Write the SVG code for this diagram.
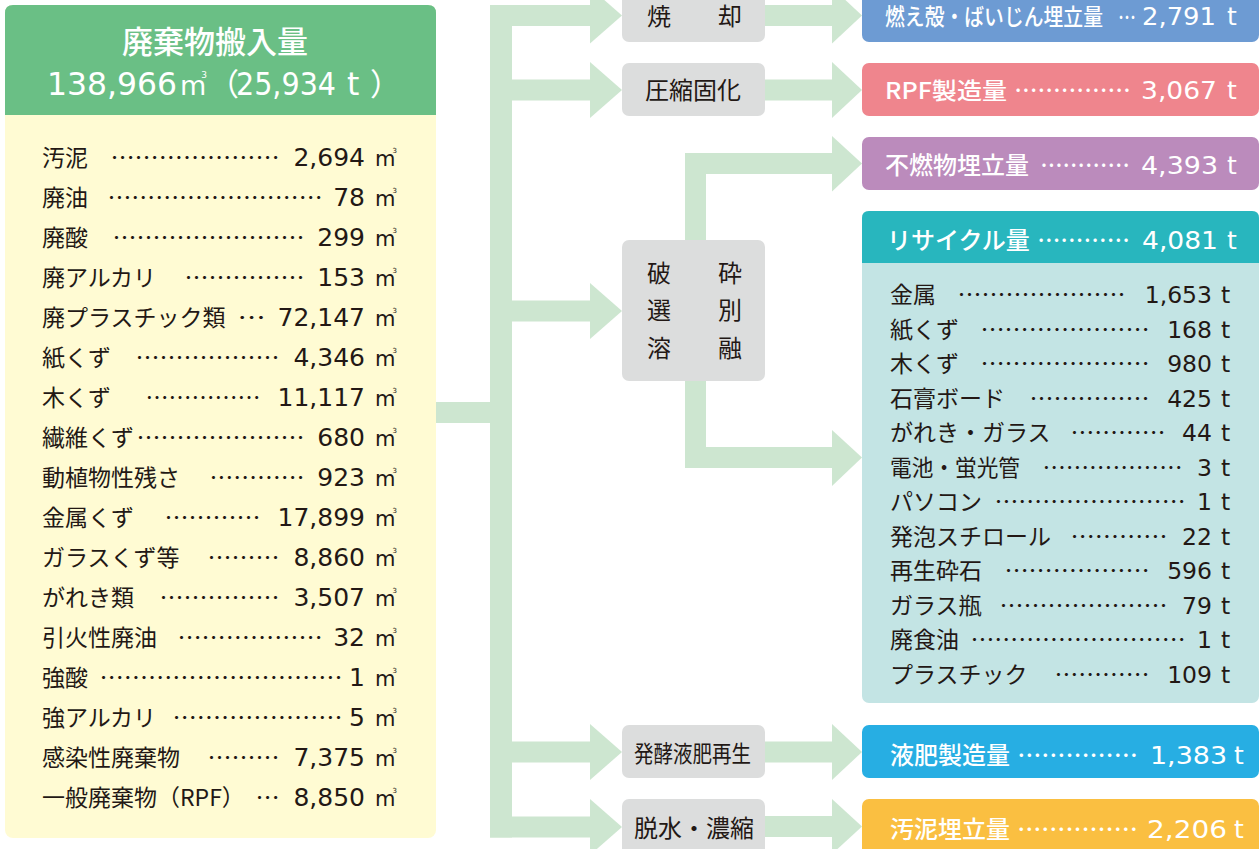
<svg xmlns="http://www.w3.org/2000/svg" width="1260" height="849" viewBox="0 0 1260 849" lang="ja">
<style>
.jp{font-family:"Noto Sans CJK JP","Noto Sans CJK SC",sans-serif}
.lbl{font-family:"Noto Sans CJK JP",sans-serif;font-size:23px;fill:#231815}
.dt{font-family:"Noto Sans CJK JP",sans-serif;font-size:23px;fill:#231815}
.num{font-family:"DejaVu Sans",sans-serif;font-size:25px;fill:#231815;text-anchor:end}
.rnum{font-family:"DejaVu Sans",sans-serif;font-size:23.5px;fill:#231815;text-anchor:end}
.unit{font-family:"DejaVu Sans",sans-serif;font-size:21px;fill:#231815}
.unit tspan{font-size:7px}
.rt{font-family:"DejaVu Sans",sans-serif;font-size:23.5px;fill:#231815}
.wl{font-family:"Noto Sans CJK JP",sans-serif;font-size:24px;font-weight:500;fill:#fff}
.wn{font-family:"DejaVu Sans",sans-serif;font-size:25px;fill:#fff;text-anchor:end}
.wt{font-family:"DejaVu Sans",sans-serif;font-size:25px;fill:#fff}
.proc{fill:#DCDDDD}
.pt{font-family:"Noto Sans CJK JP",sans-serif;font-size:24px;fill:#231815}
</style>

<g id="connectors" fill="#CDE6D0">
<rect x="490" y="5" width="22" height="832.5"/>
<rect x="436" y="402" width="54" height="21"/>
<rect x="490" y="5" width="100" height="21"/><polygon points="590,-12.5 622,15.5 590,43.5"/>
<rect x="512" y="79.5" width="78" height="21"/><polygon points="590,62 622,90 590,118"/>
<rect x="512" y="300.5" width="78" height="21"/><polygon points="590,283 622,311 590,339"/>
<rect x="512" y="741.5" width="78" height="21"/><polygon points="590,724 622,752 590,780"/>
<rect x="490" y="816.5" width="100" height="21"/><polygon points="590,799 622,827 590,855"/>
<rect x="765" y="5" width="67" height="21"/><polygon points="832,-12.5 862,15.5 832,43.5"/>
<rect x="765" y="79.5" width="67" height="21"/><polygon points="832,62 862,90 832,118"/>
<rect x="685" y="153" width="21" height="87"/><rect x="685" y="153" width="147" height="21"/><polygon points="832,136 862,163.5 832,191.5"/>
<rect x="685" y="380" width="21" height="88"/><rect x="685" y="447" width="147" height="21"/><polygon points="832,430 862,457.5 832,486"/>
<rect x="765" y="741.5" width="67" height="21"/><polygon points="832,724 862,752 832,780"/>
<rect x="765" y="816" width="67" height="21"/><polygon points="832,799 862,826.5 832,854"/>
</g>

<g id="input">
<rect x="5" y="5" width="431" height="833" rx="8" fill="#FFFBD3"/>
<path d="M5,115 V13 Q5,5 13,5 H428 Q436,5 436,13 V115 Z" fill="#6ABF85"/>
<text class="jp" x="215" y="53" style="font-size:31px;font-weight:500" fill="#fff" text-anchor="middle">廃棄物搬入量</text>
<text x="47" y="95" font-family="DejaVu Sans" font-size="31.5" fill="#fff" textLength="130" lengthAdjust="spacingAndGlyphs">138,966</text>
<text x="180" y="95" font-family="DejaVu Sans" font-size="27" fill="#fff">m<tspan font-size="9" dy="-17" dx="-5">3</tspan></text>
<text class="jp" x="208" y="95" style="font-size:31px" fill="#fff">（</text>
<text x="236" y="95" font-family="DejaVu Sans" font-size="31.5" fill="#fff" textLength="100" lengthAdjust="spacingAndGlyphs">25,934</text>
<text x="347" y="95" font-family="DejaVu Sans" font-size="31.5" fill="#fff">t</text>
<text class="jp" x="370" y="95" style="font-size:31px" fill="#fff">）</text>

<text class="lbl" x="42" y="166">汚泥</text><text class="dt" x="110.4" y="166" textLength="169.2" lengthAdjust="spacingAndGlyphs">…………………</text><text class="num" x="365" y="166">2,694</text>
<text class="lbl" x="42" y="206">廃油</text><text class="dt" x="107.4" y="206" textLength="215.2" lengthAdjust="spacingAndGlyphs">………………………</text><text class="num" x="365" y="206">78</text>
<text class="lbl" x="42" y="246">廃酸</text><text class="dt" x="112.4" y="246" textLength="192.2" lengthAdjust="spacingAndGlyphs">……………………</text><text class="num" x="365" y="246">299</text>
<text class="lbl" x="42" y="286">廃アルカリ</text><text class="dt" x="184.4" y="286" textLength="120.2" lengthAdjust="spacingAndGlyphs">……………</text><text class="num" x="365" y="286">153</text>
<text class="lbl" x="42" y="326">廃プラスチック類</text><text class="dt" x="237.4" y="326" textLength="28.2" lengthAdjust="spacingAndGlyphs">…</text><text class="num" x="365" y="326">72,147</text>
<text class="lbl" x="42" y="366">紙くず</text><text class="dt" x="135.4" y="366" textLength="144.2" lengthAdjust="spacingAndGlyphs">………………</text><text class="num" x="365" y="366">4,346</text>
<text class="lbl" x="42" y="406">木くず</text><text class="dt" x="145.4" y="406" textLength="115.2" lengthAdjust="spacingAndGlyphs">……………</text><text class="num" x="365" y="406">11,117</text>
<text class="lbl" x="42" y="446">繊維くず</text><text class="dt" x="136.4" y="446" textLength="168.2" lengthAdjust="spacingAndGlyphs">…………………</text><text class="num" x="365" y="446">680</text>
<text class="lbl" x="42" y="486">動植物性残さ</text><text class="dt" x="209.4" y="486" textLength="95.2" lengthAdjust="spacingAndGlyphs">…………</text><text class="num" x="365" y="486">923</text>
<text class="lbl" x="42" y="526">金属くず</text><text class="dt" x="164.4" y="526" textLength="96.2" lengthAdjust="spacingAndGlyphs">…………</text><text class="num" x="365" y="526">17,899</text>
<text class="lbl" x="42" y="566">ガラスくず等</text><text class="dt" x="207.4" y="566" textLength="72.2" lengthAdjust="spacingAndGlyphs">………</text><text class="num" x="365" y="566">8,860</text>
<text class="lbl" x="42" y="606">がれき類</text><text class="dt" x="159.4" y="606" textLength="120.2" lengthAdjust="spacingAndGlyphs">……………</text><text class="num" x="365" y="606">3,507</text>
<text class="lbl" x="42" y="646">引火性廃油</text><text class="dt" x="177.4" y="646" textLength="145.2" lengthAdjust="spacingAndGlyphs">………………</text><text class="num" x="365" y="646">32</text>
<text class="lbl" x="42" y="686">強酸</text><text class="dt" x="99.4" y="686" textLength="243.2" lengthAdjust="spacingAndGlyphs">…………………………</text><text class="num" x="365" y="686">1</text>
<text class="lbl" x="42" y="726">強アルカリ</text><text class="dt" x="172.4" y="726" textLength="170.2" lengthAdjust="spacingAndGlyphs">…………………</text><text class="num" x="365" y="726">5</text>
<text class="lbl" x="42" y="766">感染性廃棄物</text><text class="dt" x="207.4" y="766" textLength="72.2" lengthAdjust="spacingAndGlyphs">………</text><text class="num" x="365" y="766">7,375</text>
<text class="lbl" x="42" y="806">一般廃棄物（RPF）</text><text class="dt" x="255.4" y="806" textLength="24.2" lengthAdjust="spacingAndGlyphs">…</text><text class="num" x="365" y="806">8,850</text>
<g class="units">
<text class="unit" x="375" y="166">m<tspan dx="-3" dy="-13">3</tspan></text>
<text class="unit" x="375" y="206">m<tspan dx="-3" dy="-13">3</tspan></text>
<text class="unit" x="375" y="246">m<tspan dx="-3" dy="-13">3</tspan></text>
<text class="unit" x="375" y="286">m<tspan dx="-3" dy="-13">3</tspan></text>
<text class="unit" x="375" y="326">m<tspan dx="-3" dy="-13">3</tspan></text>
<text class="unit" x="375" y="366">m<tspan dx="-3" dy="-13">3</tspan></text>
<text class="unit" x="375" y="406">m<tspan dx="-3" dy="-13">3</tspan></text>
<text class="unit" x="375" y="446">m<tspan dx="-3" dy="-13">3</tspan></text>
<text class="unit" x="375" y="486">m<tspan dx="-3" dy="-13">3</tspan></text>
<text class="unit" x="375" y="526">m<tspan dx="-3" dy="-13">3</tspan></text>
<text class="unit" x="375" y="566">m<tspan dx="-3" dy="-13">3</tspan></text>
<text class="unit" x="375" y="606">m<tspan dx="-3" dy="-13">3</tspan></text>
<text class="unit" x="375" y="646">m<tspan dx="-3" dy="-13">3</tspan></text>
<text class="unit" x="375" y="686">m<tspan dx="-3" dy="-13">3</tspan></text>
<text class="unit" x="375" y="726">m<tspan dx="-3" dy="-13">3</tspan></text>
<text class="unit" x="375" y="766">m<tspan dx="-3" dy="-13">3</tspan></text>
<text class="unit" x="375" y="806">m<tspan dx="-3" dy="-13">3</tspan></text>
</g>
</g>

<g id="p-incineration"><rect class="proc" x="622" y="-11" width="143" height="53" rx="7"/>
<text class="pt" x="647" y="25">焼</text><text class="pt" x="718" y="25">却</text></g>
<g id="p-compress"><rect class="proc" x="622" y="63" width="143" height="53" rx="7"/>
<text class="pt" x="645" y="99">圧縮固化</text></g>
<g id="p-crush"><rect class="proc" x="622" y="240" width="143" height="141" rx="7"/>
<text class="pt" x="647" y="282">破</text><text class="pt" x="718" y="282">砕</text>
<text class="pt" x="647" y="319">選</text><text class="pt" x="718" y="319">別</text>
<text class="pt" x="647" y="357">溶</text><text class="pt" x="718" y="357">融</text></g>
<g id="p-ferment"><rect class="proc" x="622" y="725" width="143" height="53" rx="7"/>
<text class="pt" x="634" y="762" style="font-size:23px" textLength="117" lengthAdjust="spacingAndGlyphs">発酵液肥再生</text></g>
<g id="p-dewater"><rect class="proc" x="622" y="799" width="143" height="60" rx="7"/>
<text class="pt" x="634" y="837">脱水・濃縮</text></g>

<g id="r-ash"><rect x="862" y="-11" width="397" height="53" rx="7" fill="#6D9BD3"/>
<text class="wl" x="885" y="25" style="font-size:23px" textLength="218" lengthAdjust="spacingAndGlyphs">燃え殻・ばいじん埋立量</text>
<text class="wl" x="1118" y="25" style="font-size:22px" textLength="18" lengthAdjust="spacingAndGlyphs">…</text>
<text class="wn" x="1216" y="25" textLength="74" lengthAdjust="spacingAndGlyphs">2,791</text><text class="wt" x="1227" y="25">t</text></g>
<g id="r-rpf"><rect x="862" y="63" width="397" height="53" rx="7" fill="#EF858D"/>
<text class="wl" x="885" y="99" style="font-size:23px" textLength="122" lengthAdjust="spacingAndGlyphs">RPF製造量</text>
<text class="wl" x="1014.2" y="99" textLength="116.6" lengthAdjust="spacingAndGlyphs">……………</text>
<text class="wn" x="1217" y="99" textLength="76" lengthAdjust="spacingAndGlyphs">3,067</text><text class="wt" x="1227" y="99">t</text></g>
<g id="r-landfill"><rect x="862" y="137" width="397" height="53" rx="7" fill="#BB8BBC"/>
<text class="wl" x="885" y="174">不燃物埋立量</text>
<text class="wl" x="1040.2" y="174" textLength="89.6" lengthAdjust="spacingAndGlyphs">…………</text>
<text class="wn" x="1218" y="174" textLength="77" lengthAdjust="spacingAndGlyphs">4,393</text><text class="wt" x="1227" y="174">t</text></g>
<g id="r-recycle">
<rect x="862" y="211" width="397" height="492" rx="7" fill="#C3E4E4"/>
<path d="M862,263 V218 Q862,211 869,211 H1252 Q1259,211 1259,218 V263 Z" fill="#28B6BE"/>
<text class="wl" x="887" y="249">リサイクル量</text>
<text class="wl" x="1037.2" y="249" textLength="92.6" lengthAdjust="spacingAndGlyphs">…………</text>
<text class="wn" x="1218" y="249" textLength="76" lengthAdjust="spacingAndGlyphs">4,081</text><text class="wt" x="1227" y="249">t</text>
<text class="lbl" x="890" y="303">金属</text><text class="dt" x="957.4" y="303" textLength="168.2" lengthAdjust="spacingAndGlyphs">…………………</text><text class="rnum" x="1212" y="303">1,653</text><text class="rt" x="1221" y="303">t</text>
<text class="lbl" x="890" y="337.5">紙くず</text><text class="dt" x="980.4" y="337.5" textLength="169.2" lengthAdjust="spacingAndGlyphs">…………………</text><text class="rnum" x="1212" y="337.5">168</text><text class="rt" x="1221" y="337.5">t</text>
<text class="lbl" x="890" y="372">木くず</text><text class="dt" x="980.4" y="372" textLength="169.2" lengthAdjust="spacingAndGlyphs">…………………</text><text class="rnum" x="1212" y="372">980</text><text class="rt" x="1221" y="372">t</text>
<text class="lbl" x="890" y="406.5">石膏ボード</text><text class="dt" x="1029.4" y="406.5" textLength="120.2" lengthAdjust="spacingAndGlyphs">……………</text><text class="rnum" x="1212" y="406.5">425</text><text class="rt" x="1221" y="406.5">t</text>
<text class="lbl" x="890" y="441">がれき・ガラス</text><text class="dt" x="1070.4" y="441" textLength="95.2" lengthAdjust="spacingAndGlyphs">…………</text><text class="rnum" x="1212" y="441">44</text><text class="rt" x="1221" y="441">t</text>
<text class="lbl" x="890" y="475.5" textLength="130" lengthAdjust="spacingAndGlyphs">電池・蛍光管</text><text class="dt" x="1042.4" y="475.5" textLength="140.2" lengthAdjust="spacingAndGlyphs">………………</text><text class="rnum" x="1212" y="475.5">3</text><text class="rt" x="1221" y="475.5">t</text>
<text class="lbl" x="890" y="510">パソコン</text><text class="dt" x="994.4" y="510" textLength="191.2" lengthAdjust="spacingAndGlyphs">……………………</text><text class="rnum" x="1212" y="510">1</text><text class="rt" x="1221" y="510">t</text>
<text class="lbl" x="890" y="544.5">発泡スチロール</text><text class="dt" x="1070.4" y="544.5" textLength="97.2" lengthAdjust="spacingAndGlyphs">…………</text><text class="rnum" x="1212" y="544.5">22</text><text class="rt" x="1221" y="544.5">t</text>
<text class="lbl" x="890" y="579">再生砕石</text><text class="dt" x="1004.4" y="579" textLength="145.2" lengthAdjust="spacingAndGlyphs">………………</text><text class="rnum" x="1212" y="579">596</text><text class="rt" x="1221" y="579">t</text>
<text class="lbl" x="890" y="613.5">ガラス瓶</text><text class="dt" x="999.4" y="613.5" textLength="168.2" lengthAdjust="spacingAndGlyphs">…………………</text><text class="rnum" x="1212" y="613.5">79</text><text class="rt" x="1221" y="613.5">t</text>
<text class="lbl" x="890" y="648">廃食油</text><text class="dt" x="970.4" y="648" textLength="215.2" lengthAdjust="spacingAndGlyphs">………………………</text><text class="rnum" x="1212" y="648">1</text><text class="rt" x="1221" y="648">t</text>
<text class="lbl" x="890" y="682.5">プラスチック</text><text class="dt" x="1054.4" y="682.5" textLength="95.2" lengthAdjust="spacingAndGlyphs">…………</text><text class="rnum" x="1212" y="682.5">109</text><text class="rt" x="1221" y="682.5">t</text>
</g>
<g id="r-fertilizer"><rect x="862" y="725" width="397" height="53" rx="7" fill="#27AEE3"/>
<text class="wl" x="890" y="764">液肥製造量</text>
<text class="wl" x="1017.2" y="764" textLength="120.6" lengthAdjust="spacingAndGlyphs">……………</text>
<text class="wn" x="1227" y="764" textLength="77" lengthAdjust="spacingAndGlyphs">1,383</text><text class="wt" x="1234" y="764">t</text></g>
<g id="r-sludge"><rect x="862" y="799" width="397" height="60" rx="7" fill="#FABF41"/>
<text class="wl" x="890" y="838">汚泥埋立量</text>
<text class="wl" x="1017.2" y="838" textLength="120.6" lengthAdjust="spacingAndGlyphs">……………</text>
<text class="wn" x="1227" y="838" textLength="80" lengthAdjust="spacingAndGlyphs">2,206</text><text class="wt" x="1234" y="838">t</text></g>
</svg>
